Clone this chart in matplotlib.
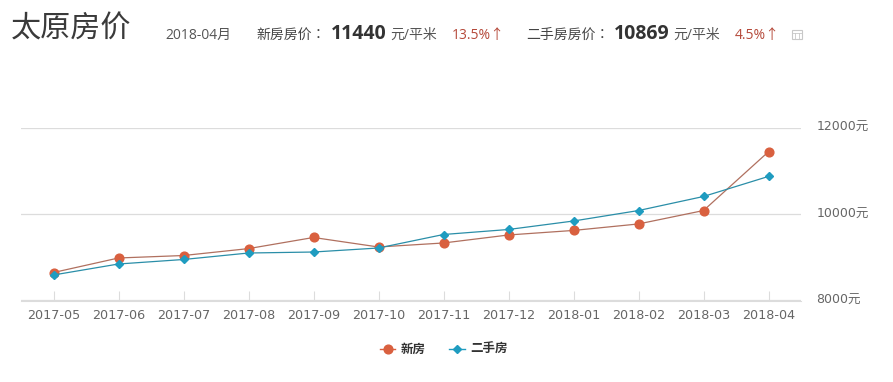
#!/usr/bin/env python3
"""Taiyuan house prices, new vs second-hand, 2017-05 to 2018-04."""

import matplotlib
matplotlib.use('Agg')
import matplotlib.pyplot as plt
from matplotlib.lines import Line2D
from matplotlib.patches import Rectangle
from matplotlib.transforms import ScaledTranslation

plt.rcParams['font.family'] = ['Open Sans', 'Noto Sans CJK SC', 'DejaVu Sans']

W, H = 893, 382

months = ['2017-05', '2017-06', '2017-07', '2017-08', '2017-09', '2017-10',
          '2017-11', '2017-12', '2018-01', '2018-02', '2018-03', '2018-04']
new_home = [8647, 8983, 9040, 9200, 9457, 9237, 9330, 9515, 9620, 9770, 10080, 11440]
second_hand = [8590, 8844, 8948, 9098, 9121, 9214, 9526, 9642, 9838, 10080, 10405, 10869]
y_ticks = [8000, 10000, 12000]

NEW_COLOR = '#d9603f'
OLD_COLOR = '#1f9cc0'
GRID = '#dcdcdc'
RED = '#b5493a'
DARK = '#333333'
TICK_FONT = ['DejaVu Sans', 'Noto Sans CJK SC']
COLON_FONT = ['Noto Sans CJK TC', 'DejaVu Sans']  # TC centres the full-width colon

fig = plt.figure(figsize=(W / 100, H / 100), dpi=100)
ax = fig.add_axes([21 / W, 1 - 300.5 / H, 780 / W, 173 / H])


def put(x, y, s, size, color=DARK, **kw):
    # x, y in image pixels from the top left
    return fig.text(x / W, 1 - y / H, s, fontsize=size, color=color, va='center', **kw)


x = list(range(len(months)))
ax.plot(x, new_home, color='#b0705f', lw=0.9, marker='o', ms=6.3,
        mfc=NEW_COLOR, mec=NEW_COLOR, zorder=3)
ax.plot(x, second_hand, color='#2a8ea8', lw=0.9, marker='D', ms=4.4,
        mfc=OLD_COLOR, mec=OLD_COLOR, zorder=4)

ax.set_xlim(-0.5, 11.5)
ax.set_ylim(8000, 12000)
for s in ['top', 'left', 'right']:
    ax.spines[s].set_visible(False)
ax.spines['bottom'].set_color(GRID)
ax.spines['bottom'].set_linewidth(0.8)
ax.grid(True, axis='y', color=GRID, lw=0.9)
ax.set_axisbelow(True)

ax.set_xticks(x)
ax.set_xticklabels(months, family=TICK_FONT)
ax.tick_params(axis='x', direction='in', length=7.5, width=0.8, color=GRID,
               labelsize=9.2, labelcolor='#666666', pad=6)
ax.set_yticks(y_ticks)
ax.set_yticklabels([f'{v}元' for v in y_ticks], family=TICK_FONT)
ax.yaxis.tick_right()
ax.tick_params(axis='y', length=0, labelsize=9, labelcolor='#666666', pad=11)
# labels sit a little above their gridlines
nudge = ScaledTranslation(0, 1.5 / 100, fig.dpi_scale_trans)
for lab in ax.get_yticklabels():
    lab.set_transform(lab.get_transform() + nudge)

# header
put(11, 30, '太原房价', 21.7, color='#3a3a3a')
put(165, 35, '2018-04月', 10, color='#555555')
put(256, 35, '新房房价：', 10, color='#444444', family=COLON_FONT)
put(331, 34, '11440', 14, weight='bold')
put(390, 35, '元/平米', 10, color='#555555')
put(452, 35, '13.5%↑', 10, color=RED)
put(526, 35, '二手房房价：', 10, color='#444444', family=COLON_FONT)
put(614, 34, '10869', 14, weight='bold')
put(673, 35, '元/平米', 10, color='#555555')
put(735, 35, '4.5%↑', 10, color=RED)

# small table icon
fig.add_artist(Rectangle((792 / W, 1 - 39 / H), 10 / W, 9 / H, transform=fig.transFigure,
                         fc='none', ec='#c8c8c8', lw=0.8))
fig.add_artist(Line2D([792 / W, 802 / W], [1 - 33 / H] * 2, color='#c8c8c8', lw=0.6))
fig.add_artist(Line2D([795 / W, 795 / W], [1 - 39 / H, 1 - 33 / H], color='#c8c8c8', lw=0.6))
fig.add_artist(Line2D([798.5 / W, 798.5 / W], [1 - 39 / H, 1 - 33 / H], color='#c8c8c8', lw=0.6))

# legend
fig.add_artist(Line2D([380 / W, 387.5 / W, 395 / W], [1 - 349 / H] * 3, color=NEW_COLOR, lw=1,
                      marker='o', ms=6.3, mfc=NEW_COLOR, mec=NEW_COLOR, markevery=[1]))
put(401, 349, '新房', 9, weight='bold')
fig.add_artist(Line2D([449 / W, 457 / W, 465 / W], [1 - 349 / H] * 3, color=OLD_COLOR, lw=1,
                      marker='D', ms=4.4, mfc=OLD_COLOR, mec=OLD_COLOR, markevery=[1]))
put(470, 349, '二手房', 9, weight='bold')

fig.savefig('out.png', dpi=100)
